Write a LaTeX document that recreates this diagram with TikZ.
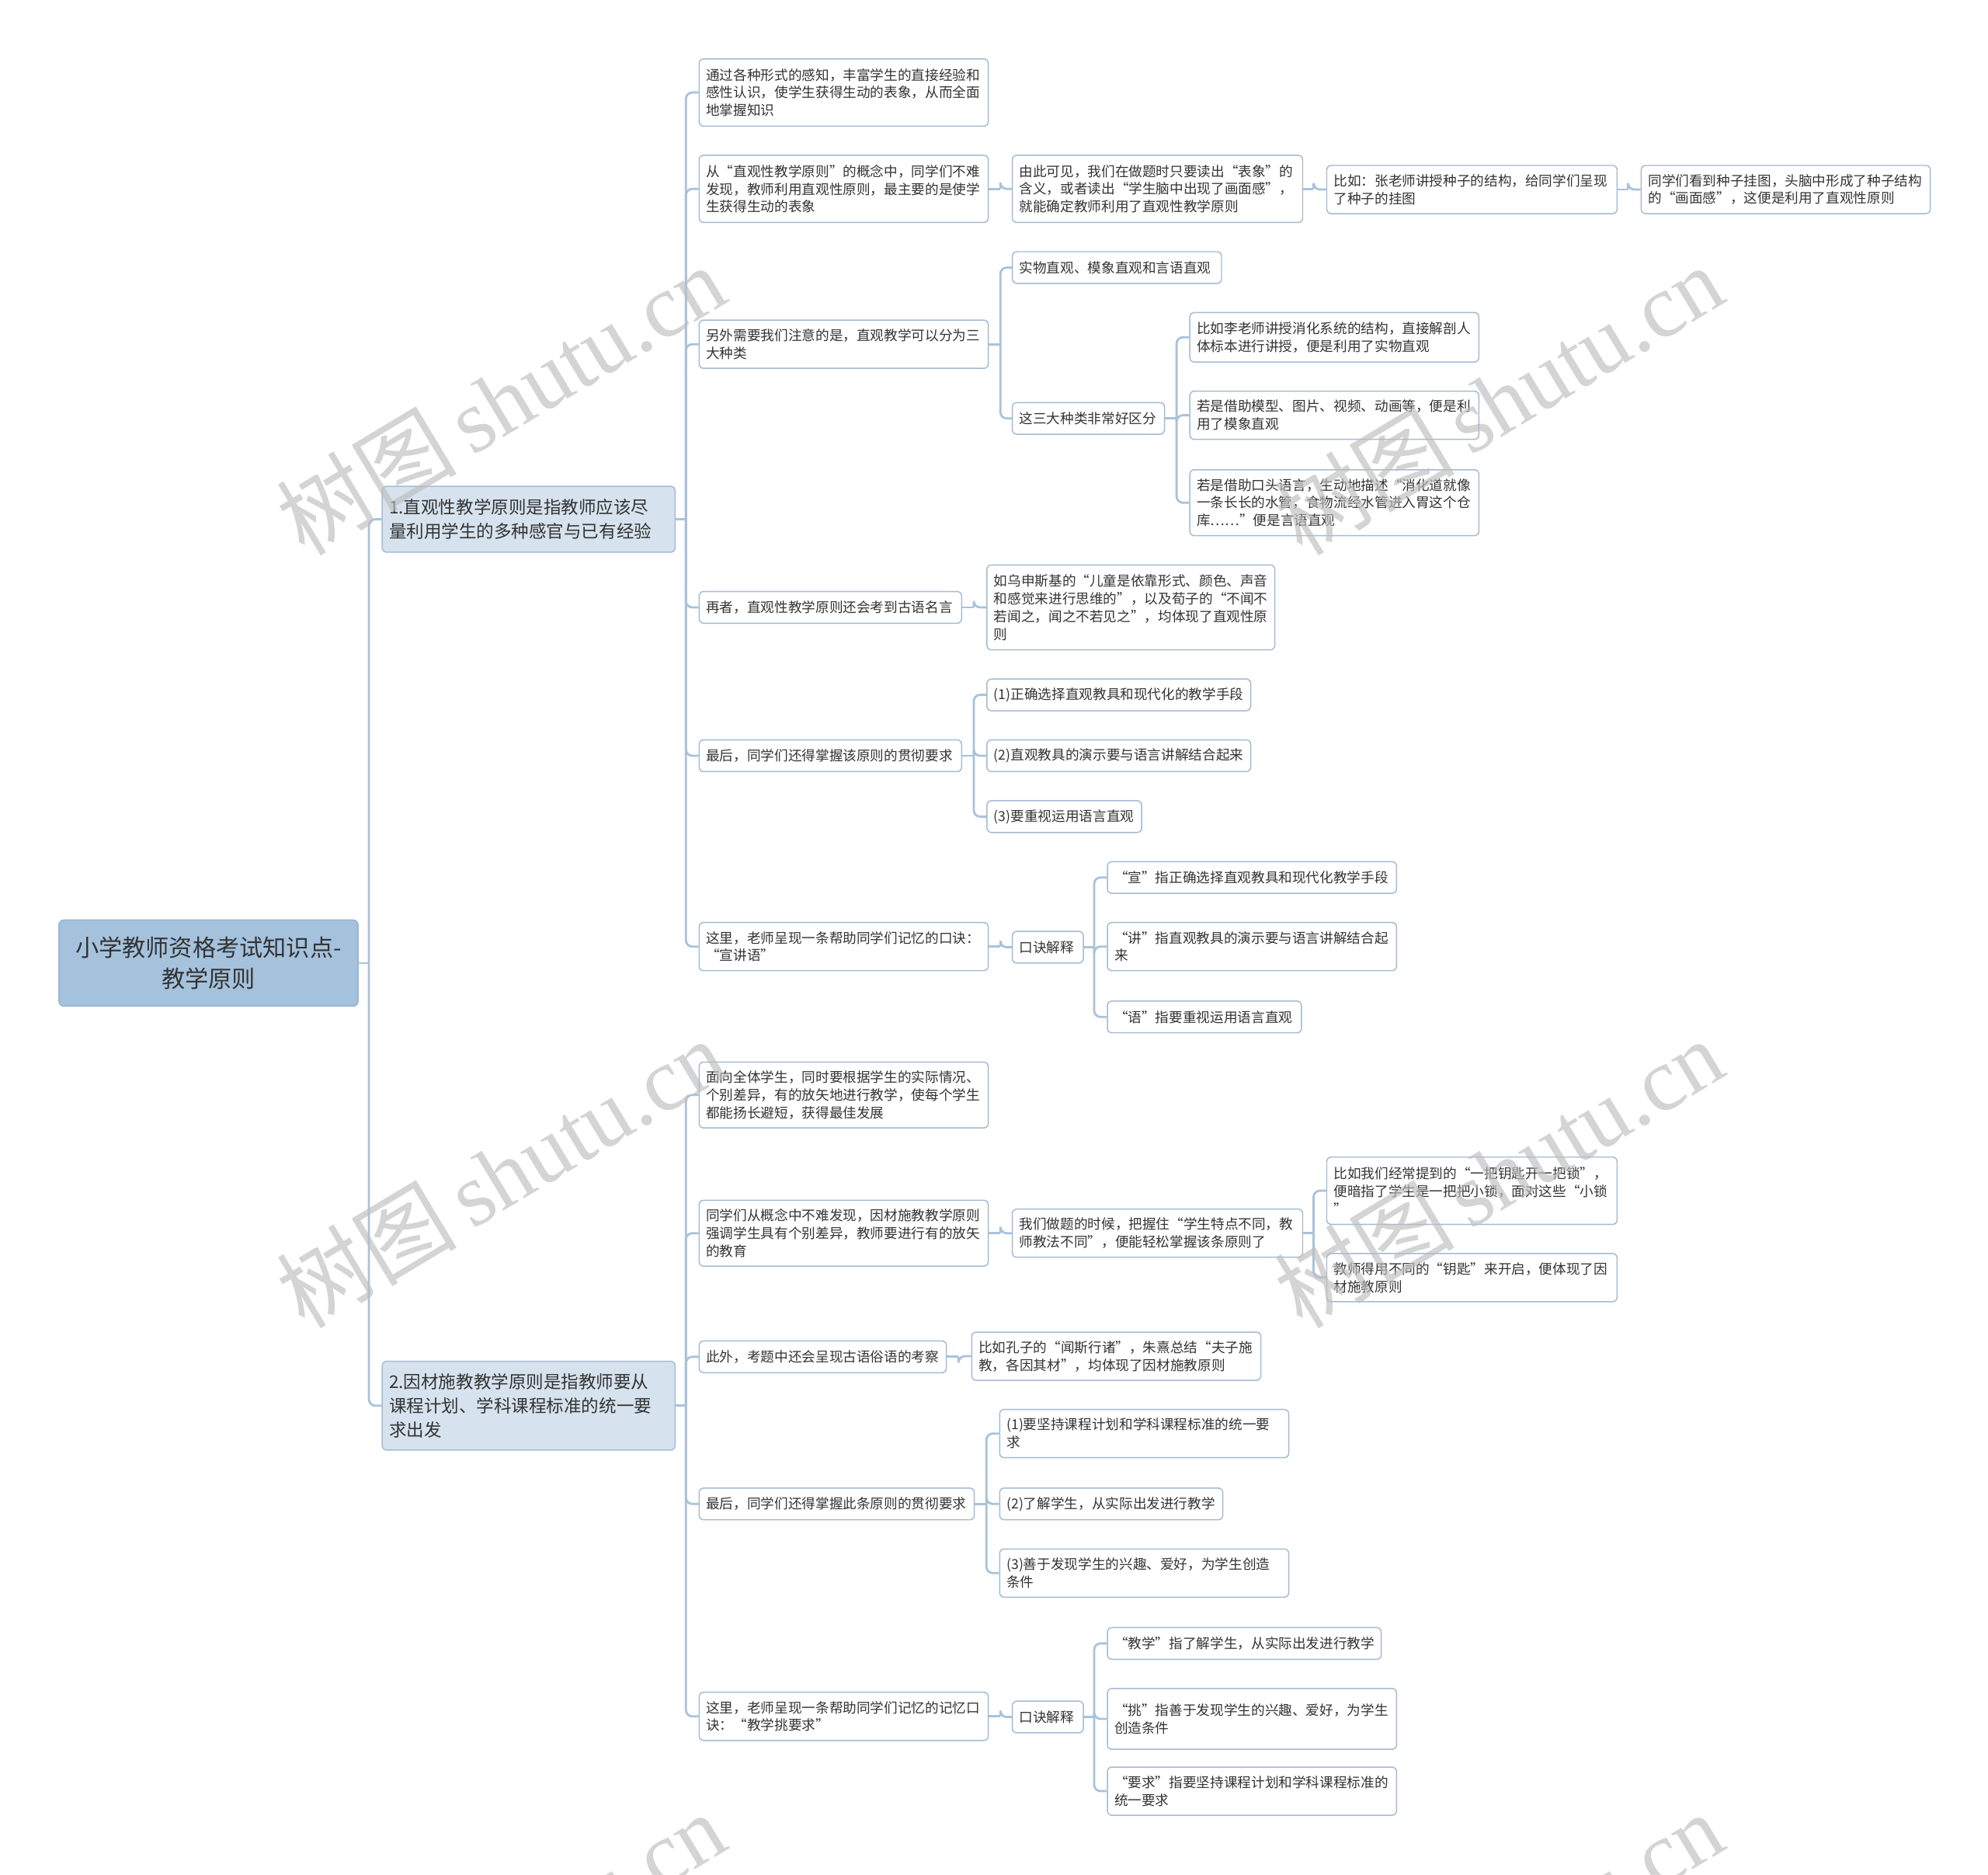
\documentclass[tikz,border=0pt]{standalone}
\usepackage{fontspec}
\setmainfont{Noto Sans CJK SC}
\newfontfamily\wmlat{Liberation Serif}
\newfontfamily\wmcjk{Noto Sans CJK SC}
\definecolor{lineC}{HTML}{A9C2DA}
\definecolor{boxB}{HTML}{A3BBD3}
\definecolor{rootF}{HTML}{A5C2DD}
\definecolor{rootB}{HTML}{97B5D2}
\definecolor{lOneF}{HTML}{D6E3EE}
\definecolor{txtC}{HTML}{333333}
\definecolor{wmC}{HTML}{BDBDBD}
\tikzset{
  leaf/.style={draw=boxB, line width=0.9pt, fill=white, rounded corners=3.5pt, inner xsep=5.5pt, inner ysep=2pt,
    align=left, text=txtC, font=\fontsize{10.8pt}{14pt}\selectfont},
  lone/.style={leaf, fill=lOneF, draw=boxB, inner xsep=7pt, font=\fontsize{13.8pt}{19pt}\selectfont},
  rootbox/.style={leaf, fill=rootF, draw=rootB, rounded corners=4pt, align=center, inner xsep=8pt, font=\fontsize{18.5pt}{25pt}\selectfont},
  conn/.style={draw=lineC, line width=1.7pt},
  wmark/.style={text=wmC, opacity=0.65, rotate=31, inner sep=0pt}
}
\newcommand\nbox[7]{%
  \pgfmathsetmacro\mywd{#5-#3-11}%
  \pgfmathsetmacro\myht{#6-#4}%
  \node[#1, inner xsep=5.5pt, minimum height=\myht pt, anchor=north west] (#2) at (#3,#4)
    {\begin{minipage}[c]{\mywd pt}\raggedright #7\end{minipage}};%
}
\newcommand\cbox[7]{%
  \pgfmathsetmacro\mywd{#5-#3}%
  \pgfmathsetmacro\myht{#6-#4}%
  \node[#1, minimum width=\mywd pt, minimum height=\myht pt, anchor=north west] (#2) at (#3,#4) {#7};%
}
\newcommand\conn[3]{%
  \draw[conn] (#1.east) -- (#1.east -| #3,0);
  \draw[conn, rounded corners=5pt] (#1.east -| #3,0) -- (#2.west -| #3,0) -- (#2.west);%
}
\begin{document}
\begin{tikzpicture}[x=1pt,y=-1pt]
\fill[white] (0,0) rectangle (1568,1478);
\useasboundingbox (0,0) rectangle (1568,1478);

% root and level one
\cbox{rootbox}{root}{46}{725}{282}{793}{小学教师资格考试知识点-\\教学原则}
\nbox{lone}{La}{301}{383}{532}{435}{1.直观性教学原则是指教师应该尽\\量利用学生的多种感官与已有经验}
\nbox{lone}{Lb}{301}{1073}{532}{1143}{2.因材施教教学原则是指教师要从\\课程计划、学科课程标准的统一要\\求出发}

% branch 1
\nbox{leaf}{A1}{551}{46}{779}{99}{通过各种形式的感知，丰富学生的直接经验和\\感性认识，使学生获得生动的表象，从而全面\\地掌握知识}
\nbox{leaf}{A2}{551}{122}{779}{175}{从“直观性教学原则”的概念中，同学们不难\\发现，教师利用直观性原则，最主要的是使学\\生获得生动的表象}
\nbox{leaf}{A21}{798}{122}{1027}{175}{由此可见，我们在做题时只要读出“表象”的\\含义，或者读出“学生脑中出现了画面感”，\\就能确定教师利用了直观性教学原则}
\nbox{leaf}{A211}{1046}{130}{1275}{168}{比如：张老师讲授种子的结构，给同学们呈现\\了种子的挂图}
\nbox{leaf}{A2111}{1294}{130}{1522}{168}{同学们看到种子挂图，头脑中形成了种子结构\\的“画面感”，这便是利用了直观性原则}
\nbox{leaf}{A3}{551}{252}{779}{290}{另外需要我们注意的是，直观教学可以分为三\\大种类}
\nbox{leaf}{A31}{798}{198}{963}{223}{实物直观、模象直观和言语直观}
\nbox{leaf}{A32}{798}{317}{918}{342}{这三大种类非常好区分}
\nbox{leaf}{A321}{938}{246}{1166}{285}{比如李老师讲授消化系统的结构，直接解剖人\\体标本进行讲授，便是利用了实物直观}
\nbox{leaf}{A322}{938}{308}{1166}{346}{若是借助模型、图片、视频、动画等，便是利\\用了模象直观}
\nbox{leaf}{A323}{938}{370}{1166}{422}{若是借助口头语言，生动地描述“消化道就像\\一条长长的水管，食物流经水管进入胃这个仓\\库……”便是言语直观}
\nbox{leaf}{A4}{551}{466}{758}{491}{再者，直观性教学原则还会考到古语名言}
\nbox{leaf}{A41}{778}{445}{1005}{512}{如乌申斯基的“儿童是依靠形式、颜色、声音\\和感觉来进行思维的”，以及荀子的“不闻不\\若闻之，闻之不若见之”，均体现了直观性原\\则}
\nbox{leaf}{A5}{551}{583}{758}{608}{最后，同学们还得掌握该原则的贯彻要求}
\nbox{leaf}{A51}{778}{535}{986}{560}{(1)正确选择直观教具和现代化的教学手段}
\nbox{leaf}{A52}{778}{583}{986}{608}{(2)直观教具的演示要与语言讲解结合起来}
\nbox{leaf}{A53}{778}{631}{900}{656}{(3)要重视运用语言直观}
\nbox{leaf}{A6}{551}{727}{779}{765}{这里，老师呈现一条帮助同学们记忆的口诀：\\“宣讲语”}
\nbox{leaf}{A61}{798}{734}{854}{759}{口诀解释}
\nbox{leaf}{A611}{873}{679}{1101}{704}{“宣”指正确选择直观教具和现代化教学手段}
\nbox{leaf}{A612}{873}{727}{1101}{765}{“讲”指直观教具的演示要与语言讲解结合起\\来}
\nbox{leaf}{A613}{873}{789}{1026}{814}{“语”指要重视运用语言直观}

% branch 2
\nbox{leaf}{B1}{551}{837}{779}{889}{面向全体学生，同时要根据学生的实际情况、\\个别差异，有的放矢地进行教学，使每个学生\\都能扬长避短，获得最佳发展}
\nbox{leaf}{B2}{551}{946}{779}{998}{同学们从概念中不难发现，因材施教教学原则\\强调学生具有个别差异，教师要进行有的放矢\\的教育}
\nbox{leaf}{B21}{798}{953}{1027}{991}{我们做题的时候，把握住“学生特点不同，教\\师教法不同”，便能轻松掌握该条原则了}
\nbox{leaf}{B211}{1046}{912}{1275}{965}{比如我们经常提到的“一把钥匙开一把锁”，\\便暗指了学生是一把把小锁，面对这些“小锁\\”}
\nbox{leaf}{B212}{1046}{988}{1275}{1026}{教师得用不同的“钥匙”来开启，便体现了因\\材施教原则}
\nbox{leaf}{B3}{551}{1057}{746}{1082}{此外，考题中还会呈现古语俗语的考察}
\nbox{leaf}{B31}{766}{1050}{994}{1088}{比如孔子的“闻斯行诸”，朱熹总结“夫子施\\教，各因其材”，均体现了因材施教原则}
\nbox{leaf}{B4}{551}{1173}{768}{1198}{最后，同学们还得掌握此条原则的贯彻要求}
\nbox{leaf}{B41}{788}{1111}{1016}{1149}{(1)要坚持课程计划和学科课程标准的统一要\\求}
\nbox{leaf}{B42}{788}{1173}{964}{1198}{(2)了解学生，从实际出发进行教学}
\nbox{leaf}{B43}{788}{1221}{1016}{1259}{(3)善于发现学生的兴趣、爱好，为学生创造\\条件}
\nbox{leaf}{B5}{551}{1334}{779}{1372}{这里，老师呈现一条帮助同学们记忆的记忆口\\诀：“教学挑要求”}
\nbox{leaf}{B51}{798}{1341}{854}{1366}{口诀解释}
\nbox{leaf}{B511}{873}{1283}{1089}{1308}{“教学”指了解学生，从实际出发进行教学}
\nbox{leaf}{B512}{873}{1331}{1101}{1379}{“挑”指善于发现学生的兴趣、爱好，为学生\\创造条件}
\nbox{leaf}{B513}{873}{1393}{1101}{1431}{“要求”指要坚持课程计划和学科课程标准的\\统一要求}

% connectors
\conn{root}{La}{291}
\conn{root}{Lb}{291}
\foreach \c in {A1,A2,A3,A4,A5,A6} {\conn{La}{\c}{541}}
\foreach \c in {B1,B2,B3,B4,B5} {\conn{Lb}{\c}{541}}
\conn{A2}{A21}{789}
\conn{A21}{A211}{1036}
\conn{A211}{A2111}{1284}
\conn{A3}{A31}{789}
\conn{A3}{A32}{789}
\foreach \c in {A321,A322,A323} {\conn{A32}{\c}{928}}
\conn{A4}{A41}{768}
\foreach \c in {A51,A52,A53} {\conn{A5}{\c}{768}}
\conn{A6}{A61}{789}
\foreach \c in {A611,A612,A613} {\conn{A61}{\c}{863}}
\conn{B2}{B21}{789}
\conn{B21}{B211}{1036}
\conn{B21}{B212}{1036}
\conn{B3}{B31}{756}
\foreach \c in {B41,B42,B43} {\conn{B4}{\c}{778}}
\conn{B5}{B51}{789}
\foreach \c in {B511,B512,B513} {\conn{B51}{\c}{863}}

% watermarks
\begin{scope}
\clip (0,0) rectangle (1568,1478);
\foreach \wx/\wy in {395/315, 1182/315, 395/925, 1182/925, 395/1535, 1182/1535} {
  \node[wmark] at (\wx,\wy) {\fontsize{71pt}{71pt}\selectfont\wmcjk 树图\,\wmlat shutu.cn};
}
\end{scope}
\end{tikzpicture}
\end{document}
